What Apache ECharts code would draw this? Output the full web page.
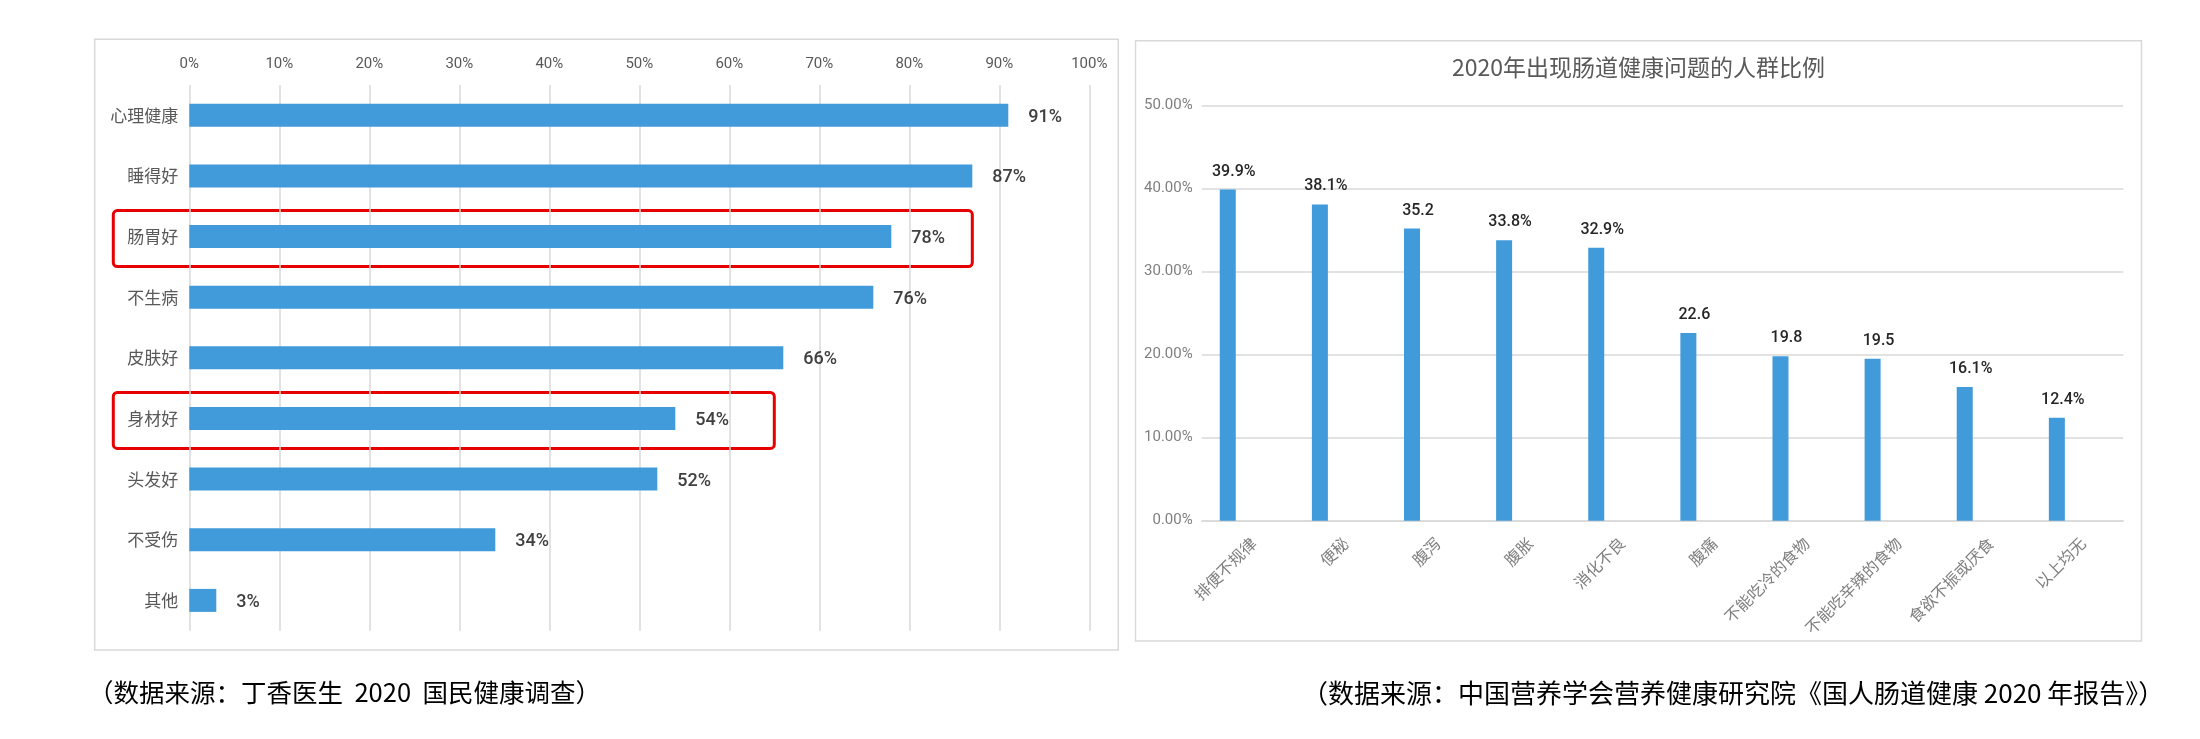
<!DOCTYPE html>
<html>
<head>
<meta charset="utf-8">
<script src="https://cdn.jsdelivr.net/npm/echarts@6/dist/echarts.min.js"></script>
<style>
html,body{margin:0;padding:0;background:#ffffff;}
#chart{width:2200px;height:739px;}
</style>
</head>
<body>
<div id="chart"></div>
<script>
// ---------- data ----------
const leftCategories = ['心理健康', '睡得好', '肠胃好', '不生病', '皮肤好', '身材好', '头发好', '不受伤', '其他'];
const leftValues = [91, 87, 78, 76, 66, 54, 52, 34, 3];
const leftTickMax = 100;
const leftTickStep = 10;
const leftHighlightCategories = ['肠胃好', '身材好'];
const leftHighlightExtents = [87, 65];

const rightTitle = '2020年出现肠道健康问题的人群比例';
const rightCategories = ['排便不规律', '便秘', '腹泻', '腹胀', '消化不良', '腹痛', '不能吃冷的食物', '不能吃辛辣的食物', '食欲不振或厌食', '以上均无'];
const rightValues = [39.9, 38.1, 35.2, 33.8, 32.9, 22.6, 19.8, 19.5, 16.1, 12.4];
const rightValueLabels = ['39.9%', '38.1%', '35.2', '33.8%', '32.9%', '22.6', '19.8', '19.5', '16.1%', '12.4%'];
const rightTickMax = 50;
const rightTickStep = 10;

const leftCaption = '（数据来源：丁香医生  2020  国民健康调查）';
const rightCaption = '（数据来源：中国营养学会营养健康研究院《国人肠道健康 2020 年报告》）';

// ---------- styles ----------
const BLUE = '#419ad9';
const GRID_COLOR = '#d9d9d9';
const NUM_FONT = 'Roboto, "Liberation Sans", sans-serif';
const CJK_FONT = '"Noto Sans CJK SC", "Noto Sans", sans-serif';

const chart = echarts.init(document.getElementById('chart'), null, {renderer: 'canvas'});

const option = {
  animation: false,
  backgroundColor: '#ffffff',
  grid: [
    {left: 189.3, top: 85, width: 900, height: 545.7, containLabel: false},
    {left: 1181.7, top: 105.7, width: 921.2, height: 415, containLabel: false},
    {left: 1201.7, top: 105.7, width: 921.6, height: 415, containLabel: false}
  ],
  xAxis: [
    {
      gridIndex: 0, type: 'value', position: 'top', min: 0, max: leftTickMax, interval: leftTickStep,
      axisLine: {show: false}, axisTick: {show: false},
      axisLabel: {formatter: '{value}%', margin: 13, color: '#595959', fontSize: 15, fontFamily: NUM_FONT},
      splitLine: {show: true, lineStyle: {color: GRID_COLOR, width: 1.5}}
    },
    {
      gridIndex: 1, type: 'category', data: rightCategories, show: false
    },
    {
      gridIndex: 2, type: 'category', data: rightCategories,
      axisLine: {show: true, lineStyle: {color: GRID_COLOR, width: 1.5}},
      axisTick: {show: false},
      axisLabel: {interval: 0, rotate: 45, margin: 14, verticalAlign: 'top', fontSize: 16, color: '#7f7f7f', fontFamily: CJK_FONT}
    }
  ],
  yAxis: [
    {
      gridIndex: 0, type: 'category', data: leftCategories, inverse: true,
      axisLine: {show: false}, axisTick: {show: false},
      axisLabel: {margin: 11, fontSize: 17, color: '#595959', fontFamily: CJK_FONT}
    },
    {
      gridIndex: 1, type: 'value', min: 0, max: rightTickMax, show: false
    },
    {
      gridIndex: 2, type: 'value', min: 0, max: rightTickMax, interval: rightTickStep,
      axisLine: {show: false}, axisTick: {show: false},
      axisLabel: {formatter: function (v) { return v.toFixed(2) + '%'; }, margin: 9, color: '#7f7f7f', fontSize: 15, fontFamily: NUM_FONT},
      splitLine: {show: true, lineStyle: {color: GRID_COLOR, width: 1.5}}
    }
  ],
  series: [
    {
      type: 'bar', xAxisIndex: 0, yAxisIndex: 0, data: leftValues, barWidth: 23,
      itemStyle: {color: BLUE},
      label: {show: true, position: 'right', distance: 20, formatter: '{c}%', color: '#404040', fontSize: 18, fontWeight: 500, fontFamily: NUM_FONT, offset: [0, 2]}
    },
    {
      type: 'bar', xAxisIndex: 1, yAxisIndex: 1, data: rightValues, barWidth: 16,
      itemStyle: {color: BLUE},
      label: {show: true, position: 'top', distance: 10, offset: [6, 0], color: '#262626', fontSize: 16, fontWeight: 500, fontFamily: NUM_FONT,
        formatter: function (p) { return rightValueLabels[p.dataIndex]; }}
    },
    {
      type: 'bar', xAxisIndex: 2, yAxisIndex: 2, data: [], silent: true
    }
  ],
  graphic: [
    {id: 'leftFrame', type: 'rect', shape: {x: 94.7, y: 39.3, width: 1023.6, height: 610.7}, style: {fill: 'none', stroke: GRID_COLOR, lineWidth: 1.5}, silent: true},
    {id: 'rightFrame', type: 'rect', shape: {x: 1135.5, y: 40.7, width: 1006, height: 600.3}, style: {fill: 'none', stroke: GRID_COLOR, lineWidth: 1.5}, silent: true},
    {id: 'rightTitle', type: 'text', x: 1638.5, y: 67.5, style: {text: rightTitle, fill: '#595959', font: '23px ' + CJK_FONT, textAlign: 'center', textVerticalAlign: 'middle'}, silent: true},
    {id: 'leftCaption', type: 'text', x: 88, y: 692, style: {text: leftCaption, fill: '#000000', font: '25.5px ' + CJK_FONT, textAlign: 'left', textVerticalAlign: 'middle'}, silent: true},
    {id: 'rightCaption', type: 'text', x: 1302, y: 693, style: {text: rightCaption, fill: '#000000', font: '26px ' + CJK_FONT, textAlign: 'left', textVerticalAlign: 'middle'}, silent: true}
  ]
};

chart.setOption(option);

// red highlight boxes around selected categories, positioned through the chart's own scales
const boxes = leftHighlightCategories.map(function (cat, i) {
  const yC = chart.convertToPixel({yAxisIndex: 0}, cat);
  const x0 = chart.convertToPixel({xAxisIndex: 0}, 0);
  const xR = chart.convertToPixel({xAxisIndex: 0}, leftHighlightExtents[i]);
  const xL = x0 - 76;
  return {
    id: 'hl' + i, type: 'rect',
    shape: {x: xL, y: yC - 26, width: xR - xL, height: 56, r: 4},
    style: {fill: 'none', stroke: '#e60000', lineWidth: 3},
    silent: true
  };
});
chart.setOption({graphic: boxes});
</script>
</body>
</html>
